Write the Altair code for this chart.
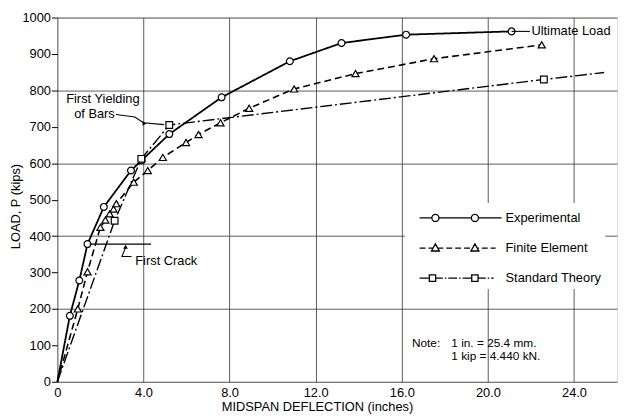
import altair as alt
import pandas as pd

FONT = "Liberation Sans"

series = ["Experimental", "Finite Element", "Standard Theory"]

exp_x = [0, 0.58, 1.02, 1.4, 2.16, 3.42, 3.92, 5.2, 7.63, 10.8, 13.2, 16.2, 21.1]
exp_y = [0, 181, 278, 378, 480, 580, 608, 680, 781, 880, 930, 953, 962]

fe_x = [0, 0.95, 1.4, 2.0, 2.23, 2.43, 2.61, 2.74, 3.55, 4.2, 4.9, 5.98, 6.56,
        7.58, 8.91, 11.0, 13.85, 17.5, 22.5]
fe_y = [0, 200, 302, 424, 444, 461, 474, 489, 548, 580, 616, 657, 679,
        711, 751, 804, 846, 887, 925]

st_x = [0, 2.66, 3.9, 5.2, 22.6, 25.4]
st_y = [0, 442, 612, 705, 830, 849]

x_ticks = [0, 4, 8, 12, 16, 20, 24]
y_ticks = [0, 100, 200, 300, 400, 500, 600, 700, 800, 900, 1000]

# annotation texts (data units)
ann_text = ["Ultimate Load", "First Yielding", "of Bars", "First Crack"]
ann_x = [22.02, 0.41, 0.78, 3.62]
ann_y = [962, 775, 734, 331]

note_text = ["Note:", "1 in. = 25.4 mm.", "1 kip = 4.440 kN."]
note_x = [16.47, 18.3, 18.3]
note_y = [107, 107, 71]

# leader lines
lead_id = [0, 0, 1, 1, 1, 1, 2, 2, 3, 3, 3]
lead_x = [21.1, 21.95, 2.72, 3.6, 4.0, 4.95, 1.5, 4.35, 3.45, 3.0, 3.17]
lead_y = [962, 962, 734, 727, 711, 706, 378, 378, 344, 344, 369]

arrow_x = [4.05, 3.17]
arrow_y = [709, 371]
arrow_shape = ["triangle-right", "triangle-up"]

# ---------------------------------------------------------------- data frames
rows = []
for name, xs, ys in [(series[0], exp_x, exp_y), (series[1], fe_x, fe_y),
                     (series[2], st_x, st_y)]:
    for i, (xv, yv) in enumerate(zip(xs, ys)):
        rows.append({"series": name, "x": xv, "y": yv, "i": i,
                     "last": i == len(xs) - 1})
df = pd.DataFrame(rows)
mk = df[(df.x > 0) & ~((df.series == series[2]) & df["last"])]

ann = pd.DataFrame({"text": ann_text, "x": ann_x, "y": ann_y})
note = pd.DataFrame({"text": note_text, "x": note_x, "y": note_y})
lead = pd.DataFrame({"id": lead_id, "x": lead_x, "y": lead_y,
                     "o": list(range(len(lead_x)))})
arrows = pd.DataFrame({"x": arrow_x, "y": arrow_y, "s": arrow_shape})


# ---------------------------------------------------------------- legend symbols
def dash_path(x0, x1, pattern, gaps):
    segs = []
    pos, k = x0, 0
    while pos < x1 - 1e-9:
        L = pattern[k % len(pattern)]
        if k % 2 == 0:
            pieces = [(pos, min(pos + L, x1))]
            for ga, gb in gaps:
                new = []
                for pa, pb in pieces:
                    if pb <= ga or pa >= gb:
                        new.append((pa, pb))
                    else:
                        if pa < ga:
                            new.append((pa, ga))
                        if pb > gb:
                            new.append((gb, pb))
                pieces = new
            segs += pieces
        pos += L
        k += 1
    return "".join(f"M{a:.2f},0L{b:.2f},0" for a, b in segs if b - a > 0.02)


def circ(cx, r=0.36):
    return (f"M{cx - r:.2f},0A{r},{r} 0 1,1 {cx + r:.2f},0"
            f"A{r},{r} 0 1,1 {cx - r:.2f},0Z")


def tri(cx):
    return (f"M{cx:.2f},-0.42L{cx + 0.4:.2f},0.3L{cx - 0.4:.2f},0.3Z")


def sq(cx, h=0.32):
    return (f"M{cx - h:.2f},{-h}L{cx + h:.2f},{-h}L{cx + h:.2f},{h}"
            f"L{cx - h:.2f},{h}Z")


m1, m2 = -2.4, 1.6
p_exp = dash_path(-4.0, 4.3, [20, 0], [(m1 - 0.36, m1 + 0.36), (m2 - 0.36, m2 + 0.36)]) \
    + circ(m1) + circ(m2)
p_fe = dash_path(-4.0, 3.7, [0.6, 0.3], [(m1 - 0.24, m1 + 0.24), (m2 - 0.24, m2 + 0.24)]) \
    + tri(m1) + tri(m2)
s1, s2 = -2.7, 1.6
p_st = dash_path(-4.0, 3.5, [0.9, 0.2, 0.15, 0.2], [(s1 - 0.32, s1 + 0.32), (s2 - 0.32, s2 + 0.32)]) \
    + sq(s1) + sq(s2)

# ---------------------------------------------------------------- chart
xscale = alt.Scale(domain=[0, 26], nice=False, zero=False)
yscale = alt.Scale(domain=[0, 1000], nice=False)

xaxis = alt.Axis(values=x_ticks, title="MIDSPAN DEFLECTION (inches)",
                 labelExpr="datum.value == 0 ? '0' : format(datum.value, '.1f')",
                 grid=True, gridColor="#333", gridWidth=0.8, domain=False,
                 ticks=False, labelPadding=5, labelFont=FONT, labelFontSize=13,
                 labelColor="black", titleFont=FONT, titleFontSize=13,
                 titleFontWeight="normal", titleColor="black", titlePadding=1,
                 titleX=263, labelFlush=False)
yaxis = alt.Axis(values=y_ticks, title="LOAD, P (kips)", grid=True,
                 labelExpr="format(datum.value, 'd')",
                 gridColor="#333", gridWidth=0.8,
                 gridOpacity={"condition": {"test": "datum.value % 200 === 0", "value": 1},
                              "value": 0},
                 domain=False, tickSize=6, tickColor="black", tickWidth=1,
                 labelPadding=1, labelFont=FONT, labelFontSize=13,
                 labelColor="black", labelOverlap=False, titleFont=FONT,
                 titleFontSize=13, titleFontWeight="normal", titleColor="black",
                 titleX=-42, titleY=191, titleAngle=270, titleAlign="center",
                 titleBaseline="middle")

X = alt.X("x:Q", scale=xscale, axis=xaxis)
Y = alt.Y("y:Q", scale=yscale, axis=yaxis)

base = alt.Chart(df)

lines = base.mark_line(color="black").encode(
    x=X, y=Y,
    strokeDash=alt.StrokeDash("series:N", legend=None,
                              scale=alt.Scale(domain=series,
                                              range=[[1, 0], [7, 4], [12, 3, 2, 3]])),
    strokeWidth=alt.StrokeWidth("series:N", legend=None,
                                scale=alt.Scale(domain=series, range=[1.8, 1.4, 1.4])),
    order="i:Q",
)

marker_layers = []
for name, shp, size in [(series[0], "circle", 48), (series[1], "triangle-up", 52),
                        (series[2], "square", 46)]:
    marker_layers.append(
        alt.Chart(mk).transform_filter(alt.datum.series == name)
        .mark_point(shape=shp, size=size, filled=True, fill="white",
                    stroke="black", strokeWidth=1.2, opacity=1)
        .encode(x=X, y=Y)
    )

legend_layer = base.mark_point(opacity=0, filled=False, color="black", size=400).encode(
    x=X, y=Y,
    shape=alt.Shape("series:N",
                    scale=alt.Scale(domain=series, range=[p_exp, p_fe, p_st]),
                    legend=alt.Legend(title=None, orient="none", legendX=352,
                                      legendY=188, symbolSize=400,
                                      symbolStrokeWidth=1.3,
                                      symbolStrokeColor="black",
                                      symbolOpacity=1, symbolOffset=40,
                                      labelOffset=36, rowPadding=12.5, padding=4,
                                      fillColor="white", labelFont=FONT,
                                      labelFontSize=13, labelColor="black",
                                      labelLimit=0)),
)

leaders = alt.Chart(lead).mark_line(color="black", strokeWidth=1.1).encode(
    x=X, y=Y, detail="id:N", order="o:Q")

heads = alt.Chart(arrows).mark_point(filled=True, color="black", size=22,
                                     opacity=1).encode(
    x=X, y=Y,
    shape=alt.Shape("s:N", scale=None, legend=None))

texts = alt.Chart(ann).mark_text(align="left", baseline="middle", font=FONT,
                                 fontSize=13, color="black").encode(
    x=X, y=Y, text="text:N")

notes = alt.Chart(note).mark_text(align="left", baseline="middle", font=FONT,
                                  fontSize=12, color="black").encode(
    x=X, y=Y, text="text:N")

chart = alt.layer(lines, *marker_layers, leaders, heads, texts, notes,
                  legend_layer).resolve_scale(
    shape="independent"
).properties(
    width=567, height=369,
    padding={"left": 50, "top": 7, "right": 4, "bottom": 32},
    autosize="none",
).configure_view(stroke="black", strokeWidth=1.3).configure(background="white")

chart.save("out.html", embed_options={"renderer": "svg", "actions": False})
